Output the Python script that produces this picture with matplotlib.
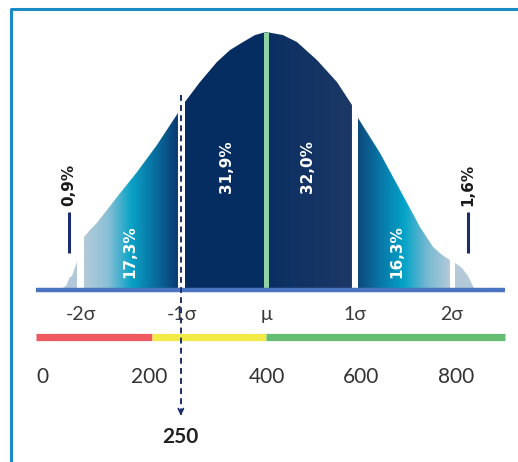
import numpy as np
import matplotlib.pyplot as plt
from matplotlib.patches import Polygon
from matplotlib.lines import Line2D
from matplotlib.colors import LinearSegmentedColormap

# Contorno de la campana (x en puntos de la escala, y en % de la altura máxima)
curva_x = [37, 47.6, 54.6, 58.1, 67, 79.3, 89.9, 102.2, 137.4, 172.7, 207.9, 244.9,
           257.3, 283.7, 313.7, 336.6, 359.5, 380.6, 400, 430, 454.6, 489.9, 525.1,
           548, 551.5, 562.1, 600.9, 636.1, 671.4, 694.3, 710.1, 724.2, 733, 745.4,
           755.9, 766.5, 770]
curva_y = [0, 1.6, 5.0, 5.4, 10.9, 20.5, 23.3, 26.0, 36.0, 45.7, 56.2, 68.6,
           72.9, 80.6, 88.4, 93.0, 96.1, 98.8, 100, 98.8, 96.1, 89.1, 80.6,
           72.9, 71.7, 66.7, 53.1, 38.8, 24.4, 16.7, 13.6, 11.6, 10.5, 8.5,
           5.4, 0.8, 0]

# Tramos de la curva (inicio, fin) y sus colores
tramos = [(37, 67), (79.3, 244.9), (257.3, 400), (400, 551.5), (562.1, 724.2), (733, 770)]
colores_tramos = [
    ['#b3c9d9', '#b3c9d9'],
    ['#b4cad9', '#8cc0d6', '#0aa3c7', '#0870a0', '#0a3a72'],
    ['#062d63', '#072e62'],
    ['#0a2f62', '#1c3866'],
    ['#0e4a7c', '#0878a8', '#03a3c8', '#74b9d1', '#b4cad8'],
    ['#b4c9d8', '#b4c9d8'],
]

# Porcentajes
pct_texto = ['17,3%', '31,9%', '32,0%', '16,3%']
pct_x = [160.4, 331.3, 474, 630.8]
pct_y = [14.7, 47.7, 47.7, 14.7]
colas_texto = ['0,9%', '1,6%']
colas_x = [52.9, 755.9]

# Etiquetas sigma
sigma_texto = ['-2σ', '-1σ', 'μ', '1σ', '2σ']
sigma_x = [74, 252, 400, 557, 728]

# Barra de colores
barra_bordes = [-5.3, 200, 400, 821]
barra_colores = ['#ef5a60', '#f1ea47', '#64bd72']

# Números de la escala
num_texto = ['0', '200', '400', '600', '800']
num_x = [5.3, 194, 402, 567, 735]

valor = 250

fig = plt.figure(figsize=(5.18, 4.62), dpi=100)
ax = fig.add_axes([0, 0, 1, 1])
ax.set_axis_off()

for (x0, x1), cols in zip(tramos, colores_tramos):
    xs = np.linspace(x0, x1, 200)
    ys = np.interp(xs, curva_x, curva_y)
    verts = [(x0, 0)] + list(zip(xs, ys)) + [(x1, 0)]
    poly = Polygon(verts, closed=True, facecolor='none', edgecolor='none')
    ax.add_patch(poly)
    cmap = LinearSegmentedColormap.from_list('g', cols)
    im = ax.imshow(np.linspace(0, 1, 256).reshape(1, -1), cmap=cmap, aspect='auto',
                   extent=[x0, x1, 0, 101], origin='lower', zorder=2)
    im.set_clip_path(poly)

# línea de la media
ax.plot([400, 400], [0, 100], color='#8fd3a3', lw=3.6, zorder=3, solid_capstyle='butt')

# línea base
ax.plot([barra_bordes[0], barra_bordes[-1]], [0, 0], color='#4a74c0', lw=3.2, zorder=4,
        solid_capstyle='butt')

for t, x, y in zip(pct_texto, pct_x, pct_y):
    ax.text(x, y, t, rotation=90, ha='center', va='center', color='white', fontsize=11,
            fontweight='bold', family=['Liberation Sans Narrow', 'DejaVu Sans'], zorder=5)

for t, x in zip(colas_texto, colas_x):
    ax.plot([x, x], [14.3, 30.2], color='#1b2d6b', lw=2.2, zorder=5, solid_capstyle='butt')
    ax.text(x, 40.7, t, rotation=90, ha='center', va='center', color='#1a1a1a', fontsize=11,
            fontweight='bold', family=['Liberation Sans Narrow', 'DejaVu Sans'], zorder=5)

for t, x in zip(sigma_texto, sigma_x):
    ax.text(x, -9.7, t, ha='center', va='center', color='#3a3a3a', fontsize=14,
            family=['Lato', 'DejaVu Sans'])

for (a, b), c in zip(zip(barra_bordes[:-1], barra_bordes[1:]), barra_colores):
    ax.plot([a, b], [-18.4, -18.4], color=c, lw=5.2, solid_capstyle='butt')

for t, x in zip(num_texto, num_x):
    ax.text(x, -33.7, t, ha='center', va='center', color='#333333', fontsize=15,
            family=['Lato', 'DejaVu Sans'])

# línea discontinua con flecha
ax.plot([valor, valor], [75.6, -48.5], color='#1b2d6b', lw=1.4, dashes=(3, 2.2), zorder=6)
ax.annotate('', xy=(valor, -49.8), xytext=(valor, -46.5),
            arrowprops=dict(arrowstyle='->', color='#1b2d6b', lw=1.3, mutation_scale=9))
ax.text(valor, -57.0, str(valor), ha='center', va='center', color='#222222', fontsize=15,
        fontweight='bold', family=['Lato', 'DejaVu Sans'])

ax.set_xlim(-68.7, 844.1)
ax.set_ylim(-66.7, 112.4)

# marco
fig.add_artist(Line2D([11 / 518, 11 / 518, 1], [0, 1 - 9 / 462, 1 - 9 / 462],
                      color='#1b8bc8', lw=2.2))

fig.savefig('out.png', dpi=100)
